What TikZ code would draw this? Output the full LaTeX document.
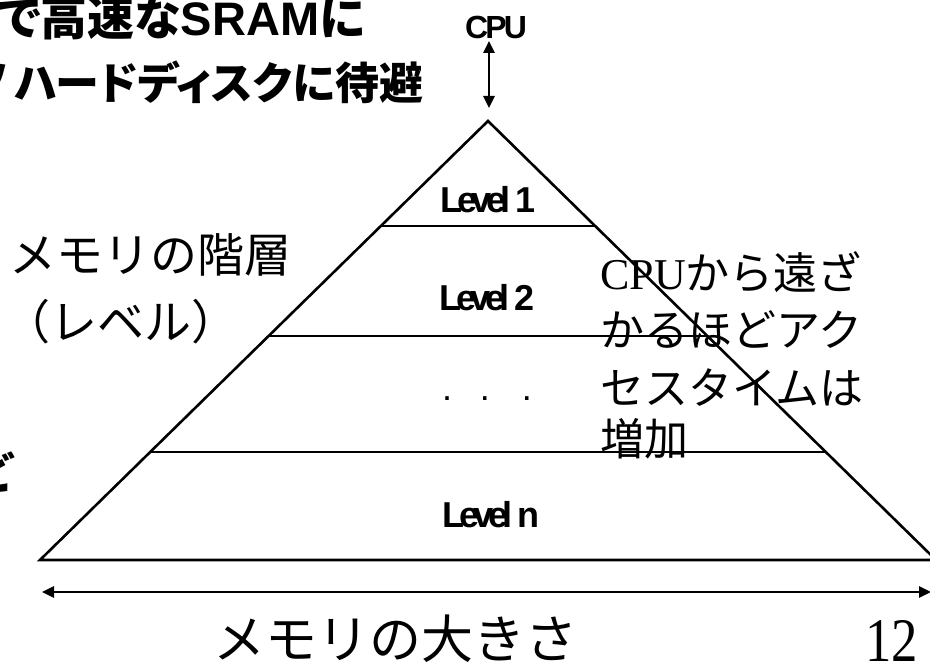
\documentclass[tikz,border=0pt]{standalone}
\usepackage{fontspec}
\usetikzlibrary{arrows.meta,calc}
\setmainfont{Liberation Serif}
\newfontfamily\jp{Noto Sans CJK JP}
\newfontfamily\jpp[RawFeature=+palt]{Noto Sans CJK JP}
\newfontfamily\arialf{Liberation Sans}
\newfontfamily\condf[LetterSpace=-15]{Liberation Sans}
\newfontfamily\condcpu[LetterSpace=-9]{Liberation Sans}
\newfontfamily\tnr{Liberation Serif}
\tikzset{
  edge/.style={line width=2.6pt, line join=miter},
  dblarrow/.style={line width=2.6pt, {Triangle[length=12pt,width=11pt]}-{Triangle[length=12pt,width=11pt]}},
  lvl/.style={font=\condf\bfseries\fontsize{36}{40}\selectfont, inner sep=0pt},
  boldjp/.style={font=\jpp\bfseries\fontsize{44}{52}\selectfont, inner sep=0pt},
  leftjp/.style={font=\jp\fontsize{47}{56}\selectfont, inner sep=0pt, anchor=west},
  rightjp/.style={font=\jp\fontsize{44}{52}\selectfont, inner sep=0pt, anchor=west},
}
\begin{document}
\begin{tikzpicture}[x=1pt,y=-1pt]
\useasboundingbox (0,0) rectangle (930,666);
% pyramid
\coordinate (T) at (488,121);
\coordinate (L) at (40,560);
\coordinate (R) at (936,560);
\draw[edge] (L) -- (T) -- (R) -- cycle;
\draw[edge] ($(T)!0.2392!(L)$) -- ($(T)!0.2392!(R)$);
\draw[edge] ($(T)!0.4897!(L)$) -- ($(T)!0.4897!(R)$);
\draw[edge] ($(T)!0.7540!(L)$) -- ($(T)!0.7540!(R)$);
% level labels
\node[lvl] (l1) at (488,200) {Level 1};
\node[lvl] (l2) at (487,298) {Level 2};
\node[font=\arialf\fontsize{36}{40}\selectfont, inner sep=0pt] (dots) at (487,399) {.\hspace{28pt}.\hspace{32pt}.};
\node[lvl] (ln) at (491,515) {Level n};
% CPU
\node[font=\condcpu\bfseries\fontsize{32}{36}\selectfont, inner sep=0pt] (cpu) at (496,27) {CPU};
\coordinate (ca) at (489,41);
\coordinate (cb) at (489,108);
\draw[dblarrow] (ca) -- (cb);
% bottom arrow
\coordinate (ba) at (42,592);
\coordinate (bb) at (931,592);
\draw[dblarrow] (ba) -- (bb);
% top-left bold text
\node[boldjp, font=\jpp\bfseries\fontsize{47}{54}\selectfont, anchor=west] (t1) at (-2,18) {で高速な{\arialf\bfseries SRAM}に};
\node[boldjp, anchor=east] (t2a) at (8,82) {ソ};
\node[boldjp, anchor=west] (t2) at (14,82) {ハードディスクに待避};
\node[boldjp, anchor=east] (t3) at (13,472) {ど};
% left label
\node[leftjp] (m1) at (9,255) {メモリの階層};
\node[leftjp] (m2) at (3,322) {（レベル）};
% right label
\node[rightjp] (r1) at (600,272) {{\tnr CPU}から遠ざ};
\node[rightjp] (r2) at (600,330) {かるほどアク};
\node[rightjp] (r3) at (600,388) {セスタイムは};
\node[rightjp] (r4) at (600,439) {増加};
% bottom
\node[font=\jp\fontsize{52}{60}\selectfont, inner sep=0pt, anchor=west] (size) at (213,639) {メモリの大きさ};
\node[font=\tnr\fontsize{62}{70}\selectfont, inner sep=0pt, anchor=east] (num) at (918,641) {\scalebox{0.85}[1]{12}};
\end{tikzpicture}
\end{document}
